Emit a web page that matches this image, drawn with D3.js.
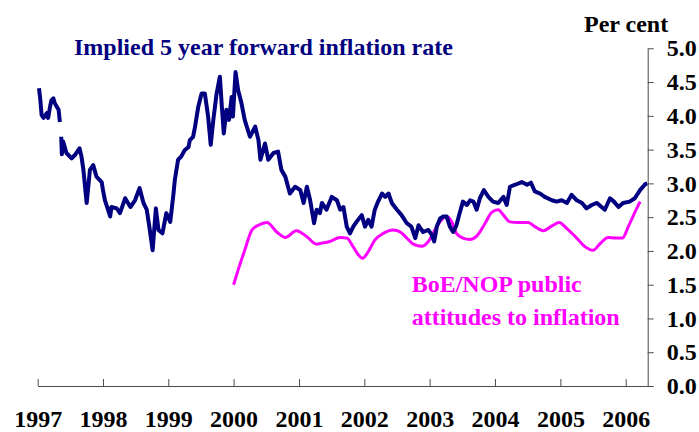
<!DOCTYPE html>
<html>
<head>
<meta charset="utf-8">
<script src="https://cdnjs.cloudflare.com/ajax/libs/d3/7.8.5/d3.min.js"></script>
<style>
  body { margin: 0; background: #fff; }
  svg text { font-family: "Liberation Serif", "Times New Roman", serif; font-weight: bold; }
</style>
</head>
<body>
<div id="chart-area"></div>
<script>
// Implied 5 year forward inflation (daily), null = break in series
var fwdYears = [1997.02, 1997.04, 1997.06, 1997.09, 1997.14, 1997.16, 1997.19, 1997.21, 1997.24, 1997.26,
    1997.29, 1997.32, 1997.34, 1997.345,
    1997.36, 1997.37, 1997.39, 1997.44, 1997.52, 1997.57, 1997.64, 1997.67, 1997.70, 1997.75,
    1997.80, 1997.85, 1997.90, 1997.98, 1998.00, 1998.03, 1998.11, 1998.13, 1998.21, 1998.26,
    1998.34, 1998.42, 1998.49, 1998.56, 1998.62, 1998.67, 1998.71, 1998.76, 1998.81, 1998.85,
    1998.91, 1998.97, 1999.03, 1999.08, 1999.10, 1999.15, 1999.20, 1999.25, 1999.31, 1999.33,
    1999.38, 1999.41, 1999.46, 1999.51, 1999.56, 1999.61, 1999.65, 1999.69, 1999.74, 1999.79,
    1999.82, 1999.85, 1999.89, 1999.93, 1999.97, 1999.99, 2000.03, 2000.07, 2000.12, 2000.17,
    2000.25, 2000.33, 2000.38, 2000.41, 2000.48, 2000.53, 2000.61, 2000.68, 2000.73, 2000.79,
    2000.86, 2000.94, 2001.02, 2001.07, 2001.12, 2001.17, 2001.23, 2001.27, 2001.32, 2001.35,
    2001.42, 2001.50, 2001.58, 2001.63, 2001.68, 2001.73, 2001.78, 2001.83, 2001.88, 2001.96,
    2002.01, 2002.06, 2002.11, 2002.16, 2002.21, 2002.27, 2002.32, 2002.37, 2002.42, 2002.50,
    2002.57, 2002.65, 2002.72, 2002.78, 2002.83, 2002.90, 2002.98, 2003.03, 2003.07, 2003.11,
    2003.16, 2003.21, 2003.26, 2003.31, 2003.36, 2003.41, 2003.46, 2003.51, 2003.57, 2003.62,
    2003.67, 2003.72, 2003.77, 2003.83, 2003.90, 2003.97, 2004.05, 2004.13, 2004.18, 2004.23,
    2004.31, 2004.41, 2004.49, 2004.55, 2004.61, 2004.69, 2004.76, 2004.87, 2004.94, 2005.02,
    2005.10, 2005.17, 2005.25, 2005.33, 2005.40, 2005.48, 2005.56, 2005.63, 2005.68, 2005.76,
    2005.82, 2005.89, 2005.96, 2006.06, 2006.14, 2006.22, 2006.30, 2006.33];
var fwdRates = [4.41, 4.24, 4.01, 3.97, 4.04, 3.97, 4.14, 4.23, 4.26, 4.19,
    4.14, 4.09, 3.91, null,
    3.69, 3.43, 3.62, 3.45, 3.37, 3.42, 3.52, 3.40, 3.20, 2.71,
    3.20, 3.27, 3.10, 3.02, 2.90, 2.75, 2.51, 2.65, 2.63, 2.56,
    2.78, 2.65, 2.75, 2.93, 2.71, 2.61, 2.36, 2.01, 2.63, 2.31,
    2.26, 2.56, 2.43, 2.85, 3.05, 3.35, 3.40, 3.49, 3.54, 3.64,
    3.69, 3.84, 4.14, 4.33, 4.33, 3.99, 3.57, 3.94, 4.33, 4.58,
    4.14, 3.74, 4.09, 3.94, 4.28, 3.99, 4.65, 4.38, 4.19, 3.94,
    3.69, 3.84, 3.64, 3.35, 3.59, 3.35, 3.45, 3.47, 3.20, 3.10,
    2.85, 2.95, 2.90, 2.71, 2.95, 2.75, 2.41, 2.61, 2.56, 2.71,
    2.61, 2.80, 2.75, 2.61, 2.65, 2.36, 2.26, 2.36, 2.43, 2.53,
    2.36, 2.46, 2.36, 2.61, 2.73, 2.85, 2.80, 2.85, 2.71, 2.61,
    2.53, 2.41, 2.36, 2.19, 2.38, 2.28, 2.31, 2.24, 2.14, 2.36,
    2.48, 2.51, 2.51, 2.36, 2.28, 2.38, 2.56, 2.73, 2.68, 2.75,
    2.73, 2.61, 2.78, 2.90, 2.80, 2.73, 2.71, 2.80, 2.68, 2.95,
    2.98, 3.02, 2.98, 3.01, 2.88, 2.85, 2.80, 2.75, 2.73, 2.75,
    2.71, 2.83, 2.75, 2.71, 2.63, 2.68, 2.71, 2.65, 2.61, 2.78,
    2.73, 2.65, 2.71, 2.73, 2.78, 2.90, 2.99, 3.00];

// BoE/NOP public attitudes to inflation survey
var surveyYears = [2000.00, 2000.07, 2000.17, 2000.28, 2000.38, 2000.51, 2000.66, 2000.79, 2000.96, 2001.12,
    2001.27, 2001.32, 2001.47, 2001.63, 2001.73, 2001.83, 2001.91, 2001.97, 2002.06, 2002.16,
    2002.29, 2002.44, 2002.55, 2002.65, 2002.75, 2002.88, 2002.98, 2003.08, 2003.18, 2003.26,
    2003.34, 2003.41, 2003.51, 2003.62, 2003.72, 2003.85, 2003.95, 2004.05, 2004.13, 2004.23,
    2004.36, 2004.51, 2004.61, 2004.74, 2004.87, 2004.98, 2005.10, 2005.25, 2005.38, 2005.50,
    2005.61, 2005.73, 2005.84, 2005.95, 2006.04, 2006.14, 2006.22];
var surveyRates = [1.50, 1.72, 2.01, 2.31, 2.38, 2.42, 2.28, 2.20, 2.30, 2.21,
    2.10, 2.11, 2.14, 2.20, 2.19, 2.06, 1.94, 1.89, 1.99, 2.16,
    2.26, 2.31, 2.28, 2.19, 2.10, 2.07, 2.14, 2.31, 2.46, 2.51,
    2.43, 2.26, 2.19, 2.17, 2.22, 2.41, 2.57, 2.61, 2.53, 2.43,
    2.42, 2.42, 2.36, 2.30, 2.37, 2.42, 2.33, 2.19, 2.06, 2.01,
    2.11, 2.20, 2.19, 2.19, 2.36, 2.57, 2.73];

var yearTicks = [1997, 1998, 1999, 2000, 2001, 2002, 2003, 2004, 2005, 2006];
var rateTicks = [0, 0.5, 1, 1.5, 2, 2.5, 3, 3.5, 4, 4.5, 5];

var width = 699, height = 432;
var plotLeft = 37.7, plotRight = 647.7, plotTop = 48.3, plotBottom = 386;

// decimal year -> Date
function toDate(yd) {
    var yr = Math.floor(yd);
    var a = new Date(yr, 0, 1), b = new Date(yr + 1, 0, 1);
    return new Date(+a + (yd - yr) * (b - a));
}

var svg = d3.select("#chart-area")
    .append("svg")
        .attr("width", width)
        .attr("height", height);

// Scales
var x = d3.scaleTime()
    .domain([new Date(1997, 0, 1), new Date(2006, 4, 4)])
    .range([plotLeft, plotRight]);
var y = d3.scaleLinear()
    .domain([0, 5])
    .range([plotBottom, plotTop]);

// X Axis (ticks point up into the plot)
var xAxisCall = d3.axisBottom(x)
    .tickValues(yearTicks.map(function(d){ return new Date(d, 0, 1); }))
    .tickFormat(d3.timeFormat("%Y"))
    .tickSizeInner(-7)
    .tickSizeOuter(0)
    .tickPadding(24);
svg.append("g")
    .attr("class", "x axis")
    .attr("transform", "translate(0," + plotBottom + ")")
    .call(xAxisCall);

// Y Axis on the right
var yAxisCall = d3.axisRight(y)
    .tickValues(rateTicks)
    .tickFormat(d3.format(".1f"))
    .tickSizeInner(6)
    .tickSizeOuter(0)
    .tickPadding(13);
svg.append("g")
    .attr("class", "y axis")
    .attr("transform", "translate(" + plotRight + ",0)")
    .call(yAxisCall);

svg.selectAll(".axis path, .axis line")
    .attr("stroke", "#4a4a4a")
    .attr("stroke-width", 1);
svg.selectAll(".axis text")
    .attr("fill", "#000")
    .attr("font-size", "24px")
    .attr("font-family", null);

// Lines
var fwdData = fwdYears.map(function(d, i){ return { date: toDate(d), value: fwdRates[i] }; });
var surveyData = surveyYears.map(function(d, i){ return { date: toDate(d), value: surveyRates[i] }; });

var fwdLine = d3.line()
    .defined(function(d){ return d.value !== null; })
    .x(function(d){ return x(d.date); })
    .y(function(d){ return y(d.value); });

var surveyLine = d3.line()
    .curve(d3.curveMonotoneX)
    .x(function(d){ return x(d.date); })
    .y(function(d){ return y(d.value); });

svg.append("path")
    .datum(surveyData)
    .attr("fill", "none")
    .attr("stroke", "#ff00ff")
    .attr("stroke-width", 3)
    .attr("stroke-linejoin", "round")
    .attr("d", surveyLine);

svg.append("path")
    .datum(fwdData)
    .attr("fill", "none")
    .attr("stroke", "#000080")
    .attr("stroke-width", 4)
    .attr("stroke-linejoin", "round")
    .attr("d", fwdLine);

// Labels
svg.append("text")
    .attr("x", 74)
    .attr("y", 55)
    .attr("font-size", "24px")
    .attr("fill", "#000080")
    .text("Implied 5 year forward inflation rate");

svg.append("text")
    .attr("x", 584)
    .attr("y", 31.5)
    .attr("font-size", "24px")
    .attr("fill", "#000")
    .text("Per cent");

svg.append("text")
    .attr("x", 411.7)
    .attr("y", 291.5)
    .attr("font-size", "24px")
    .attr("fill", "#ff00ff")
    .text("BoE/NOP public");

svg.append("text")
    .attr("x", 411.7)
    .attr("y", 325)
    .attr("font-size", "24px")
    .attr("fill", "#ff00ff")
    .text("attitudes to inflation");
</script>
</body>
</html>
